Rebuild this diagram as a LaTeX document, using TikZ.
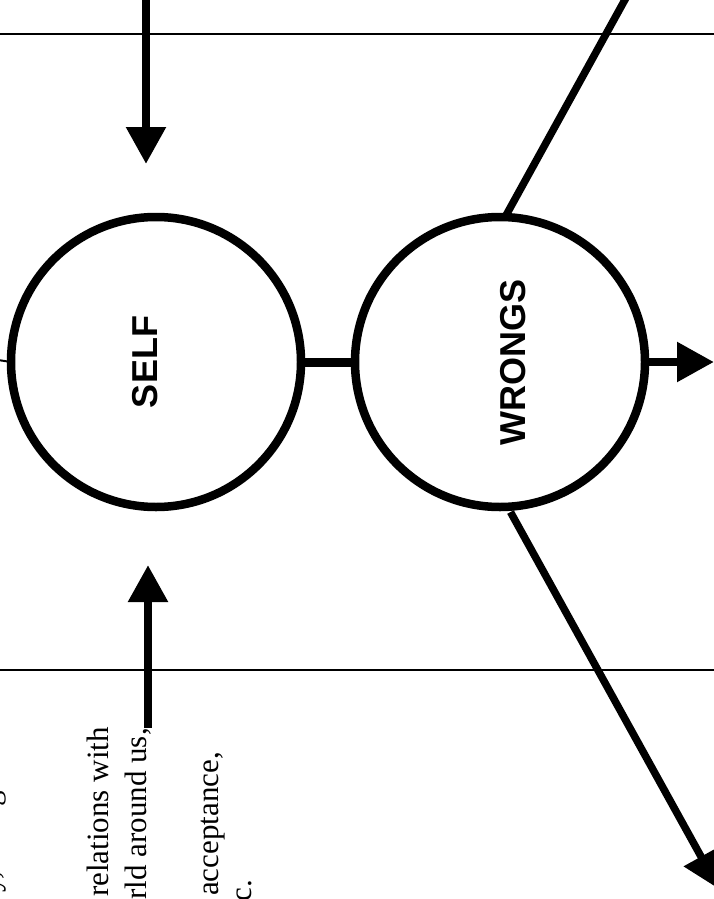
\documentclass[tikz,border=0pt]{standalone}
\usepackage{fontspec}
\setmainfont{Liberation Serif}
\setsansfont{Liberation Sans}
\usetikzlibrary{arrows.meta}
\tikzset{
  bubble/.style={circle, draw, line width=8.5pt, minimum size=290pt, inner sep=0pt, outer sep=0pt},
  bubbletext/.style={rotate=90, anchor=base, font=\sffamily\bfseries\fontsize{36}{40}\selectfont, inner sep=0pt},
  bodytext/.style={rotate=90, anchor=base east, font=\fontsize{31}{36}\selectfont, inner sep=0pt},
  fattip/.style={line width=8.5pt, -{Triangle[length=37pt,width=38pt]}},
  rule/.style={line width=1.3pt},
  bar/.style={line width=7.5pt}
}
\begin{document}
\begin{tikzpicture}[x=1pt,y=-1pt]
\useasboundingbox (0,0) rectangle (713,899);
\fill[white] (0,0) rectangle (713,899);

% rules
\coordinate (r1a) at (-2,34);  \coordinate (r1b) at (715,34);
\coordinate (r2a) at (-2,670); \coordinate (r2b) at (715,670);
\draw[rule] (r1a) -- (r1b);
\draw[rule, line width=1.6pt] (r2a) -- (r2b);

% circles
\node[bubble] (self) at (156,362) {};
\node[bubble] (wrongs) at (500,362) {};
\node[bubbletext] (selflbl) at (157,362) {SELF};
\node[bubbletext] (wronglbl) at (525,362) {WRONGS};

% link between circles
\draw[line width=9pt] (self) -- (wrongs);

% small line at left
\coordinate (lft) at (-2,360);
\draw[line width=2pt] (lft) -- (self.west);

% top arrow (down)
\coordinate (tin) at (146,-4);
\coordinate (ttip) at (146,164);
\draw[fattip] (tin) -- (ttip);

% bottom arrow (up)
\coordinate (bin) at (148,728);
\coordinate (btip) at (148,565);
\draw[fattip] (bin) -- (btip);

% right arrow
\coordinate (rtip) at (714,362);
\draw[fattip] (wrongs.east) -- (rtip);

% diagonal up-right
\coordinate (dend) at (627,-4);
\draw[bar] (wrongs.88.8) -- (dend);

% diagonal down-right arrow
\coordinate (dtip) at (719,889);
\draw[bar, -{Triangle[length=37pt,width=38pt]}, shorten <=6pt] (wrongs.-87.5) -- (dtip);

% texts
\node[bodytext] (t1) at (108,727) {relations with};
\node[bodytext] (t2) at (146,728) {rld around us,};
\node[bodytext] (t3) at (218,752) {acceptance,};
\node[bodytext] (t4) at (251,880) {c.};
\node[rotate=90, anchor=base west, font=\fontsize{31}{36}\selectfont, inner sep=0pt] (t0) at (-1,893) {y, is negative};
\end{tikzpicture}
\end{document}
